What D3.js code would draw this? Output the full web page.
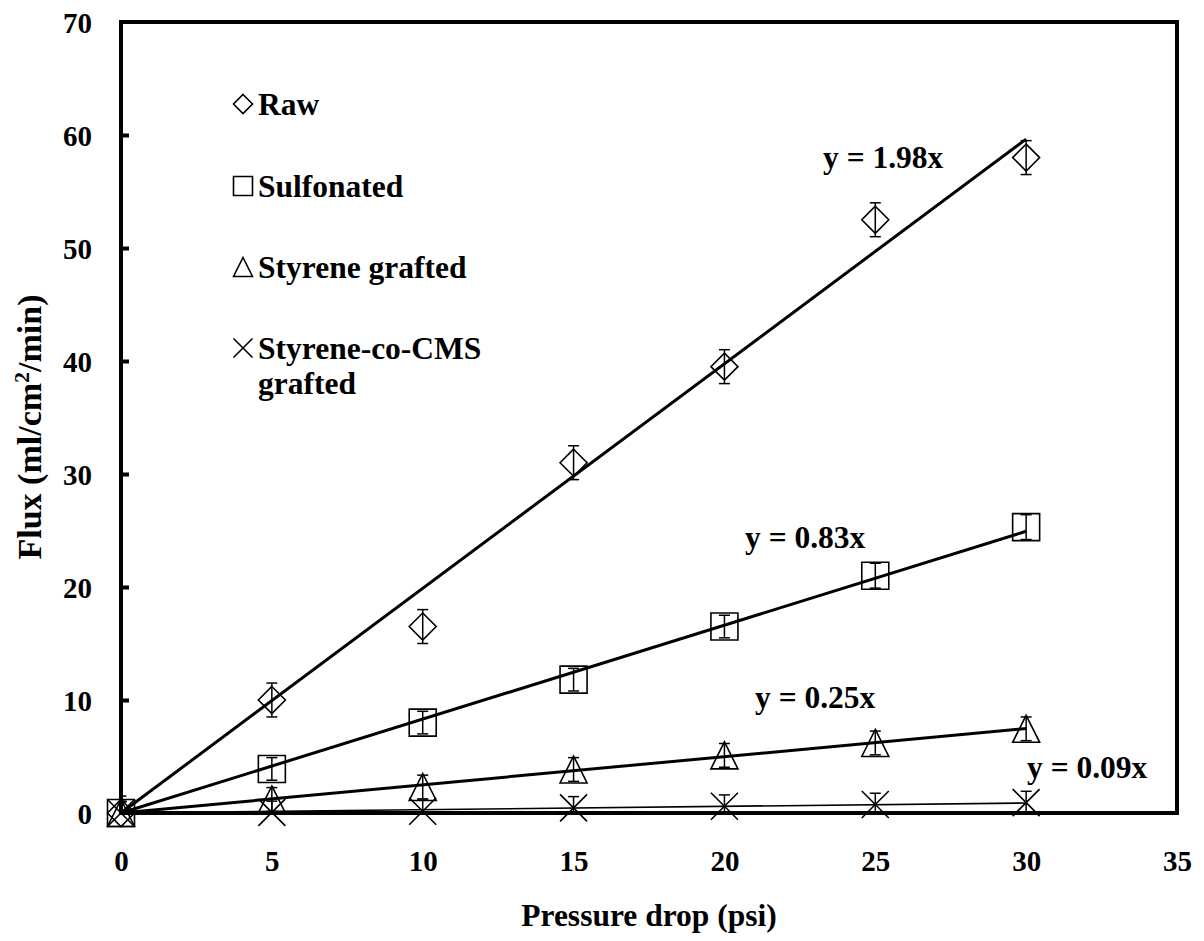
<!DOCTYPE html>
<html>
<head>
<meta charset="utf-8">
<script src="https://cdn.jsdelivr.net/npm/d3@7/dist/d3.min.js"></script>
<style>
  html, body { margin: 0; padding: 0; background: #fff; }
  svg text { font-family: "Liberation Serif", "Times New Roman", serif; font-weight: bold; fill: #000; }
</style>
</head>
<body>
<svg id="chart" width="1204" height="941"></svg>
<script>
// Pressure drop (psi) at which flux was measured
const pressure = [0, 5, 10, 15, 20, 25, 30];

// Flux (ml/cm2/min) for each membrane, with ± error
const rawFlux = [0, 10, 16.5, 31, 39.5, 52.5, 58];
const rawErr = [1.5, 1.5, 1.5, 1.5, 1.5, 1.5, 1.5];
const sulfonatedFlux = [0, 3.9, 8, 11.8, 16.5, 21, 25.3];
const sulfonatedErr = [1, 1, 1, 1, 1, 1.1, 1.1];
const styreneFlux = [0, 1.2, 2.3, 3.85, 5.1, 6.2, 7.45];
const styreneErr = [1.05, 1.05, 1.05, 1.05, 1.05, 1.05, 1.05];
const cmsFlux = [0, 0.05, 0.15, 0.45, 0.6, 0.75, 0.92];
const cmsErr = [1, 1, 1, 1, 1, 1, 1];

const seriesNames = ["Raw", "Sulfonated", "Styrene grafted", "Styrene-co-CMS grafted"];
const trendLabels = ["y = 1.98x", "y = 0.83x", "y = 0.25x", "y = 0.09x"];

const xTicks = [0, 5, 10, 15, 20, 25, 30, 35];
const yTicks = [0, 10, 20, 30, 40, 50, 60, 70];

const series = [
  { name: seriesNames[0], y: rawFlux, err: rawErr, symbol: "diamond", trendWidth: 3, label: trendLabels[0], lx: 823, ly: 168 },
  { name: seriesNames[1], y: sulfonatedFlux, err: sulfonatedErr, symbol: "square", trendWidth: 3, label: trendLabels[1], lx: 745, ly: 548 },
  { name: seriesNames[2], y: styreneFlux, err: styreneErr, symbol: "triangle", trendWidth: 3, label: trendLabels[2], lx: 755, ly: 708 },
  { name: seriesNames[3], y: cmsFlux, err: cmsErr, symbol: "cross", trendWidth: 1.6, label: trendLabels[3], lx: 1027, ly: 778 }
];

const svg = d3.select("#chart");
const plot = { left: 121, right: 1177, top: 22, bottom: 813 };

const x = d3.scaleLinear().domain([0, 35]).range([plot.left, plot.right]);
const y = d3.scaleLinear().domain([0, 70]).range([plot.bottom, plot.top]);

// Open marker outlines, r = half size in px
function markerPath(type, r) {
  const p = d3.path();
  if (type === "diamond") {
    p.moveTo(0, -r); p.lineTo(r, 0); p.lineTo(0, r); p.lineTo(-r, 0); p.closePath();
  } else if (type === "square") {
    p.rect(-r, -r, 2 * r, 2 * r);
  } else if (type === "triangle") {
    p.moveTo(0, -r); p.lineTo(r, r); p.lineTo(-r, r); p.closePath();
  } else {
    p.moveTo(-r, -r); p.lineTo(r, r); p.moveTo(r, -r); p.lineTo(-r, r);
  }
  return p.toString();
}

// Least-squares slope of a line forced through the origin
function originSlope(xs, ys) {
  const sxy = d3.sum(xs, (v, i) => v * ys[i]);
  const sxx = d3.sum(xs, v => v * v);
  return sxy / sxx;
}

svg.append("defs").append("clipPath").attr("id", "plotClip")
  .append("rect")
  .attr("x", plot.left).attr("y", plot.top)
  .attr("width", plot.right - plot.left).attr("height", plot.bottom - plot.top);

// Trend lines
const trendG = svg.append("g");
series.forEach(s => {
  const m = originSlope(pressure, s.y);
  trendG.append("line")
    .attr("x1", x(0)).attr("y1", y(0))
    .attr("x2", x(30)).attr("y2", y(m * 30))
    .attr("stroke", "#000").attr("stroke-width", s.trendWidth);
});

// Error bars (clipped to the plot area)
const errG = svg.append("g").attr("clip-path", "url(#plotClip)");
series.forEach(s => {
  pressure.forEach((px, i) => {
    const cx = x(px);
    const top = y(s.y[i] + s.err[i]);
    const bot = y(s.y[i] - s.err[i]);
    errG.append("line").attr("x1", cx).attr("x2", cx).attr("y1", top).attr("y2", bot)
      .attr("stroke", "#000").attr("stroke-width", 1.5);
    [top, bot].forEach(yy => {
      errG.append("line").attr("x1", cx - 5.5).attr("x2", cx + 5.5).attr("y1", yy).attr("y2", yy)
        .attr("stroke", "#000").attr("stroke-width", 1.5);
    });
  });
});

// Data markers
const markG = svg.append("g");
series.forEach(s => {
  markG.selectAll(null).data(pressure).enter().append("path")
    .attr("transform", (d, i) => `translate(${x(d)},${y(s.y[i])})`)
    .attr("d", markerPath(s.symbol, 13.5))
    .attr("fill", "none").attr("stroke", "#000").attr("stroke-width", 1.6);
});

// Plot frame
const frame = svg.append("g").attr("stroke", "#000").attr("stroke-width", 4).attr("fill", "none");
frame.append("rect")
  .attr("x", plot.left).attr("y", plot.top)
  .attr("width", plot.right - plot.left).attr("height", plot.bottom - plot.top);

// Y axis: inward ticks, labels on the left
const yAxis = d3.axisLeft(y).tickValues(yTicks).tickSizeInner(-8).tickSizeOuter(0).tickPadding(29);
const yg = svg.append("g").attr("transform", `translate(${plot.left},0)`).call(yAxis);
yg.select(".domain").remove();
yg.selectAll(".tick line").attr("stroke", "#000").attr("stroke-width", 4)
  .filter(d => d === 0 || d === 70).remove();
yg.selectAll(".tick text").attr("font-size", 29).attr("dy", "0.35em")
  .style("font-family", '"Liberation Serif", "Times New Roman", serif').style("font-weight", "bold");

// X axis: labels only
const xAxis = d3.axisBottom(x).tickValues(xTicks).tickSize(0).tickPadding(58);
const xg = svg.append("g").attr("transform", `translate(0,${plot.bottom})`).call(xAxis);
xg.select(".domain").remove();
xg.selectAll(".tick text").attr("font-size", 29).attr("dy", 0)
  .style("font-family", '"Liberation Serif", "Times New Roman", serif').style("font-weight", "bold");

// Axis titles
svg.append("text").attr("x", 649).attr("y", 926).attr("text-anchor", "middle")
  .attr("font-size", 31.5).text("Pressure drop (psi)");

const yt = svg.append("text").attr("transform", "translate(41,427) rotate(-90)")
  .attr("text-anchor", "middle").attr("font-size", 34);
yt.append("tspan").text("Flux (ml/cm");
yt.append("tspan").attr("font-size", 22).attr("dy", -12).text("2");
yt.append("tspan").attr("dy", 12).text("/min)");

// Trend line equations
series.forEach(s => {
  svg.append("text").attr("x", s.lx).attr("y", s.ly).attr("font-size", 31.5).text(s.label);
});

// Legend
const legendRows = [
  { s: series[0], lines: ["Raw"], cy: 104 },
  { s: series[1], lines: ["Sulfonated"], cy: 186 },
  { s: series[2], lines: ["Styrene grafted"], cy: 267 },
  { s: series[3], lines: ["Styrene-co-CMS", "grafted"], cy: 348 }
];
const legend = svg.append("g");
legendRows.forEach(row => {
  legend.append("path")
    .attr("transform", `translate(243,${row.cy})`)
    .attr("d", markerPath(row.s.symbol, 9.5))
    .attr("fill", "none").attr("stroke", "#000").attr("stroke-width", 1.6);
  row.lines.forEach((t, k) => {
    legend.append("text").attr("x", 258).attr("y", row.cy + 11 + k * 35)
      .attr("font-size", 31.5).text(t);
  });
});
</script>
</body>
</html>
